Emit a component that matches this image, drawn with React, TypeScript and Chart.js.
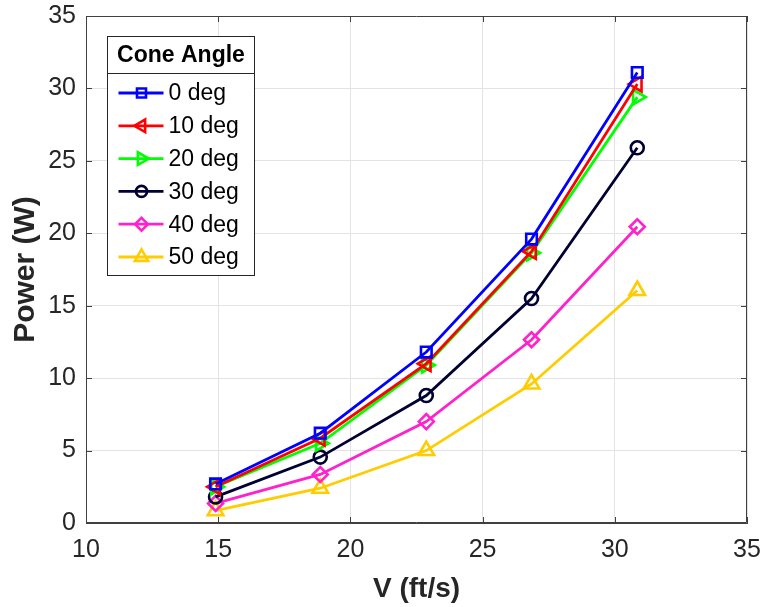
import React, { useEffect, useRef } from 'react';
import { Chart, registerables } from 'chart.js';
import { drawPoint } from 'chart.js/helpers';

Chart.register(...registerables);

// ---- data ----
const velocity = [14.9, 18.86, 22.87, 26.85, 30.85];
const seriesLabels = ['0 deg', '10 deg', '20 deg', '30 deg', '40 deg', '50 deg'];
const power0 = [2.7, 6.2, 11.8, 19.6, 31.1];
const power10 = [2.5, 5.85, 11.0, 18.75, 30.3];
const power20 = [2.5, 5.5, 10.9, 18.65, 29.4];
const power30 = [1.8, 4.55, 8.8, 15.5, 25.9];
const power40 = [1.35, 3.35, 7.0, 12.65, 20.45];
const power50 = [0.85, 2.4, 5.0, 9.6, 16.05];
const xTicks = [10, 15, 20, 25, 30, 35];
const yTicks = [0, 5, 10, 15, 20, 25, 30, 35];
const legendTitle = 'Cone Angle';
const xTitle = 'V (ft/s)';
const yTitle = 'Power (W)';

const allSeries = [power0, power10, power20, power30, power40, power50];

// ---- styles ----
const colors = ['#0000ff', '#ff0000', '#00ff00', '#000033', '#ff22cc', '#ffcc00'];
const pStyles = ['rect', 'triangle', 'triangle', 'circle', 'rectRot', 'triangle'];
const pRot = [0, -90, 90, 0, 0, 0];
const pRad = [7.5, 8.5, 8.5, 6.5, 7.5, 9];
const FONT = '"Liberation Sans", Arial, sans-serif';

const framePlugin = {
  id: 'frame',
  afterDraw(chart: any) {
    const { ctx, chartArea: a } = chart;
    const xs = chart.scales.x;
    const ys = chart.scales.y;
    ctx.save();
    ctx.strokeStyle = '#404040';
    ctx.lineWidth = 1;
    ctx.beginPath();
    ctx.rect(a.left + 0.5, a.top + 0.5, a.right - a.left - 1, a.bottom - a.top - 1);
    const tl = 6;
    xTicks.forEach((v) => {
      const px = Math.round(xs.getPixelForValue(v)) + 0.5;
      ctx.moveTo(px, a.bottom);
      ctx.lineTo(px, a.bottom - tl);
      ctx.moveTo(px, a.top);
      ctx.lineTo(px, a.top + tl);
    });
    yTicks.forEach((v) => {
      const py = Math.round(ys.getPixelForValue(v)) + 0.5;
      ctx.moveTo(a.left, py);
      ctx.lineTo(a.left + tl, py);
      ctx.moveTo(a.right, py);
      ctx.lineTo(a.right - tl, py);
    });
    ctx.stroke();
    ctx.restore();
  },
};

const legendPlugin = {
  id: 'matlabLegend',
  afterDatasetsDraw(chart: any) {
    const { ctx, chartArea: a } = chart;
    const x0 = a.left + 21.5;
    const y0 = a.top + 20.5;
    const w = 147;
    const h = 239;
    const titleH = 37;
    ctx.save();
    ctx.fillStyle = '#ffffff';
    ctx.fillRect(x0, y0, w, h);
    ctx.strokeStyle = '#262626';
    ctx.lineWidth = 1;
    ctx.strokeRect(x0, y0, w, h);
    ctx.beginPath();
    ctx.moveTo(x0, y0 + titleH);
    ctx.lineTo(x0 + w, y0 + titleH);
    ctx.stroke();
    ctx.fillStyle = '#000000';
    ctx.font = `bold 23px ${FONT}`;
    ctx.textAlign = 'center';
    ctx.textBaseline = 'middle';
    ctx.fillText(legendTitle, x0 + w / 2, y0 + titleH / 2 + 1);
    chart.data.datasets.forEach((ds: any, i: number) => {
      const cy = y0 + 56.5 + i * 32.8;
      ctx.strokeStyle = ds.borderColor;
      ctx.lineWidth = ds.borderWidth;
      ctx.beginPath();
      ctx.moveTo(x0 + 11, cy);
      ctx.lineTo(x0 + 56, cy);
      ctx.stroke();
      ctx.fillStyle = 'rgba(0,0,0,0)';
      ctx.lineWidth = ds.pointBorderWidth;
      drawPoint(
        ctx,
        {
          pointStyle: ds.pointStyle,
          rotation: ds.pointRotation,
          radius: ds.pointRadius * 0.85,
          borderWidth: ds.pointBorderWidth,
        } as any,
        x0 + 34,
        cy
      );
      ctx.fillStyle = '#000000';
      ctx.font = `23px ${FONT}`;
      ctx.textAlign = 'left';
      ctx.fillText(ds.label, x0 + 61, cy + 1);
    });
    ctx.restore();
  },
};

export default function App() {
  const ref = useRef<HTMLCanvasElement>(null);
  useEffect(() => {
    if (!ref.current) return;
    const chart = new Chart(ref.current, {
      type: 'line',
      data: {
        datasets: allSeries.map((vals, i) => ({
          label: seriesLabels[i],
          data: vals.map((y, j) => ({ x: velocity[j], y })),
          borderColor: colors[i],
          backgroundColor: 'rgba(0,0,0,0)',
          borderWidth: 2.8,
          pointStyle: pStyles[i] as any,
          pointRotation: pRot[i],
          pointRadius: pRad[i],
          pointBorderWidth: 2.6,
          pointBorderColor: colors[i],
          pointBackgroundColor: 'rgba(0,0,0,0)',
          tension: 0,
          fill: false,
        })),
      },
      options: {
        responsive: false,
        animation: false,
        devicePixelRatio: 1,
        layout: { padding: { top: 16, right: 14, left: 0, bottom: 0 } },
        plugins: { legend: { display: false }, tooltip: { enabled: false } },
        scales: {
          x: {
            type: 'linear',
            min: 10,
            max: 35,
            afterBuildTicks: (s: any) => {
              s.ticks = xTicks.map((v) => ({ value: v }));
            },
            afterFit: (s: any) => {
              s.height = 84;
              s.paddingLeft = 0;
              s.paddingRight = 0;
            },
            ticks: {
              font: { family: FONT, size: 25 },
              color: '#262626',
              padding: 12,
              maxRotation: 0,
            },
            grid: { color: '#e3e3e3', lineWidth: 1, drawTicks: false },
            border: { display: true, color: '#404040', width: 1 },
            title: {
              display: true,
              text: xTitle,
              font: { family: FONT, size: 28, weight: 'bold' },
              color: '#262626',
              padding: { top: 0, bottom: 1 },
            },
          },
          y: {
            type: 'linear',
            min: 0,
            max: 35,
            afterBuildTicks: (s: any) => {
              s.ticks = yTicks.map((v) => ({ value: v }));
            },
            afterFit: (s: any) => {
              s.width = 86;
              s.paddingTop = 0;
              s.paddingBottom = 0;
            },
            ticks: {
              font: { family: FONT, size: 25 },
              color: '#262626',
              padding: 10,
            },
            grid: { color: '#e3e3e3', lineWidth: 1, drawTicks: false },
            border: { display: true, color: '#404040', width: 1 },
            title: {
              display: true,
              text: yTitle,
              font: { family: FONT, size: 30, weight: 'bold' },
              color: '#262626',
              padding: { top: 8, bottom: 0 },
            },
          },
        },
      },
      plugins: [framePlugin, legendPlugin],
    });
    return () => chart.destroy();
  }, []);
  return (
    <div style={{ position: 'absolute', left: 0, top: 0, width: 761, height: 607, background: '#fff' }}>
      <canvas ref={ref} width={761} height={607} />
    </div>
  );
}
